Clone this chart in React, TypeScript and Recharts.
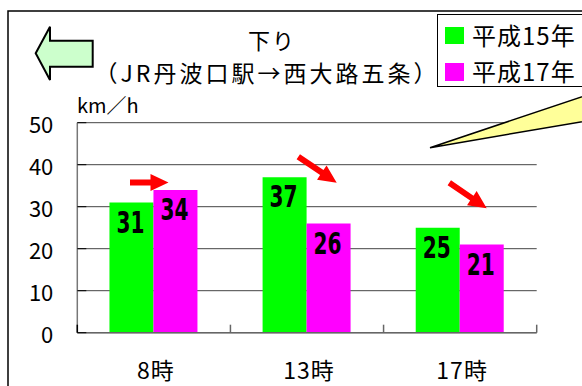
import React from 'react';
import { BarChart, Bar, XAxis, YAxis, CartesianGrid, LabelList } from 'recharts';

const categories = ['8時', '13時', '17時'];
const seriesH15 = [31, 37, 25];
const seriesH17 = [34, 26, 21];
const seriesNames = ['平成15年', '平成17年'];
const seriesColors = ['#00ff00', '#ff00ff'];
const yTicks = [0, 10, 20, 30, 40, 50];
const titleLine1 = '下り';
const titleLine2 = '（JR丹波口駅→西大路五条）';
const unitLabel = 'km／h';

const data = categories.map((c, i) => ({ name: c, h15: seriesH15[i], h17: seriesH17[i] }));

const FONT = '"Noto Sans CJK JP", "Noto Sans", sans-serif';
const NARROW = '"Liberation Sans Narrow", "DejaVu Sans Condensed", "Liberation Sans", sans-serif';

const YTick = (props: any) => {
  const { x, y, payload } = props;
  return (
    <g>
      <line x1={x} x2={x + 9} y1={y} y2={y} stroke="#000" strokeWidth={1} />
      <text x={x - 24} y={y + 10} textAnchor="end" fontSize={22} fontFamily={FONT} fill="#000">
        {payload.value}
      </text>
    </g>
  );
};

const XTick = (props: any) => {
  const { x, y, payload, index, width, visibleTicksCount } = props;
  const band = width && visibleTicksCount ? width / visibleTicksCount : 153;
  return (
    <g>
      {index === 0 && (
        <line x1={x - band / 2} x2={x - band / 2} y1={y - 8} y2={y} stroke="#000" strokeWidth={1.5} />
      )}
      <line x1={x + band / 2} x2={x + band / 2} y1={y - 8} y2={y} stroke="#666" strokeWidth={1.5} />
      <text x={x + 2} y={y + 46.5} textAnchor="middle" fontSize={23} fontFamily={FONT} fill="#000" letterSpacing={1}>
        {payload.value}
      </text>
    </g>
  );
};

const ValueLabel = (props: any) => {
  const { x, y, width, value } = props;
  return (
    <text
      x={x + width / 2 - 1}
      y={y + 30}
      textAnchor="middle"
      fontSize={31}
      fontWeight="bold"
      fontFamily={NARROW}
      fill="#000"
      textLength={28}
      lengthAdjust="spacingAndGlyphs"
    >
      {value}
    </text>
  );
};

const RedArrow = ({ x1, y1, x2, y2 }: { x1: number; y1: number; x2: number; y2: number }) => {
  const dx = x2 - x1;
  const dy = y2 - y1;
  const len = Math.sqrt(dx * dx + dy * dy);
  const ux = dx / len;
  const uy = dy / len;
  const nx = -uy;
  const ny = ux;
  const sw = 3;
  const hl = 18;
  const hw = 8.5;
  const bx = x2 - ux * hl;
  const by = y2 - uy * hl;
  const pts = [
    [x1 + nx * sw, y1 + ny * sw],
    [bx + nx * sw, by + ny * sw],
    [bx + nx * hw, by + ny * hw],
    [x2, y2],
    [bx - nx * hw, by - ny * hw],
    [bx - nx * sw, by - ny * sw],
    [x1 - nx * sw, y1 - ny * sw],
  ]
    .map((p) => p.join(','))
    .join(' ');
  return <polygon points={pts} fill="#ff0000" />;
};

export default function App() {
  return (
    <div
      style={{
        position: 'absolute',
        left: 0,
        top: 0,
        width: 582,
        height: 386,
        background: '#fff',
        overflow: 'hidden',
      }}
    >
      <BarChart
        width={582}
        height={386}
        data={data}
        margin={{ top: 122.7, right: 45.3, left: 0, bottom: 0 }}
        barCategoryGap="21%"
        barGap={0}
      >
        <CartesianGrid vertical={false} stroke="#444" strokeWidth={1} />
        <XAxis
          dataKey="name"
          height={53.3}
          tickSize={0}
          tickMargin={0}
          tickLine={false}
          axisLine={{ stroke: '#666', strokeWidth: 1.5 }}
          tick={(p: any) => <XTick {...p} />}
          interval={0}
        />
        <YAxis
          width={77.3}
          domain={[0, 50]}
          ticks={yTicks}
          tickSize={0}
          tickMargin={0}
          tickLine={false}
          axisLine={{ stroke: '#777', strokeWidth: 1.5 }}
          tick={(p: any) => <YTick {...p} />}
          interval={0}
        />
        <Bar dataKey="h15" name={seriesNames[0]} fill={seriesColors[0]} isAnimationActive={false}>
          <LabelList dataKey="h15" content={(p: any) => <ValueLabel {...p} />} />
        </Bar>
        <Bar dataKey="h17" name={seriesNames[1]} fill={seriesColors[1]} isAnimationActive={false}>
          <LabelList dataKey="h17" content={(p: any) => <ValueLabel {...p} />} />
        </Bar>
      </BarChart>
      <svg
        width={582}
        height={386}
        style={{ position: 'absolute', left: 0, top: 0, pointerEvents: 'none' }}
      >
        <path d="M8 390 V11 H590" fill="none" stroke="#000" strokeWidth={1.5} />
        <polygon
          points="35.7,53.3 50,26.7 50,40.7 92.7,40.7 92.7,66.7 50,66.7 50,80"
          fill="#ccffcc"
          stroke="#000"
          strokeWidth={2}
          strokeLinejoin="miter"
        />
        <text x={272} y={48.5} textAnchor="middle" fontSize={22} fontFamily={FONT} fill="#000" letterSpacing={2}>
          {titleLine1}
        </text>
        <text x={267} y={82} textAnchor="middle" fontSize={23} fontFamily={FONT} fill="#000" letterSpacing={3}>
          {titleLine2}
        </text>
        <text x={77} y={113} fontSize={20} fontFamily={FONT} fill="#000">
          {unitLabel}
        </text>
        <rect x={437.5} y={14.5} width={160} height={72} fill="#fff" stroke="#000" strokeWidth={1} />
        <rect x={445} y={27} width={19} height={17} fill={seriesColors[0]} />
        <rect x={445} y={63} width={19} height={18} fill={seriesColors[1]} />
        <text x={472} y={45} fontSize={24} fontFamily={FONT} fill="#000" letterSpacing={1}>
          {seriesNames[0]}
        </text>
        <text x={472} y={81} fontSize={24} fontFamily={FONT} fill="#000" letterSpacing={1}>
          {seriesNames[1]}
        </text>
        <polygon
          points="430,147.7 600,90.7 600,118.6"
          fill="#ffff99"
          stroke="#000"
          strokeWidth={1.5}
        />
        <RedArrow x1={130} y1={182.5} x2={168.5} y2={182.5} />
        <RedArrow x1={298.3} y1={156.7} x2={336.7} y2={182.7} />
        <RedArrow x1={449.3} y1={182.7} x2={486.7} y2={208.3} />
      </svg>
    </div>
  );
}
